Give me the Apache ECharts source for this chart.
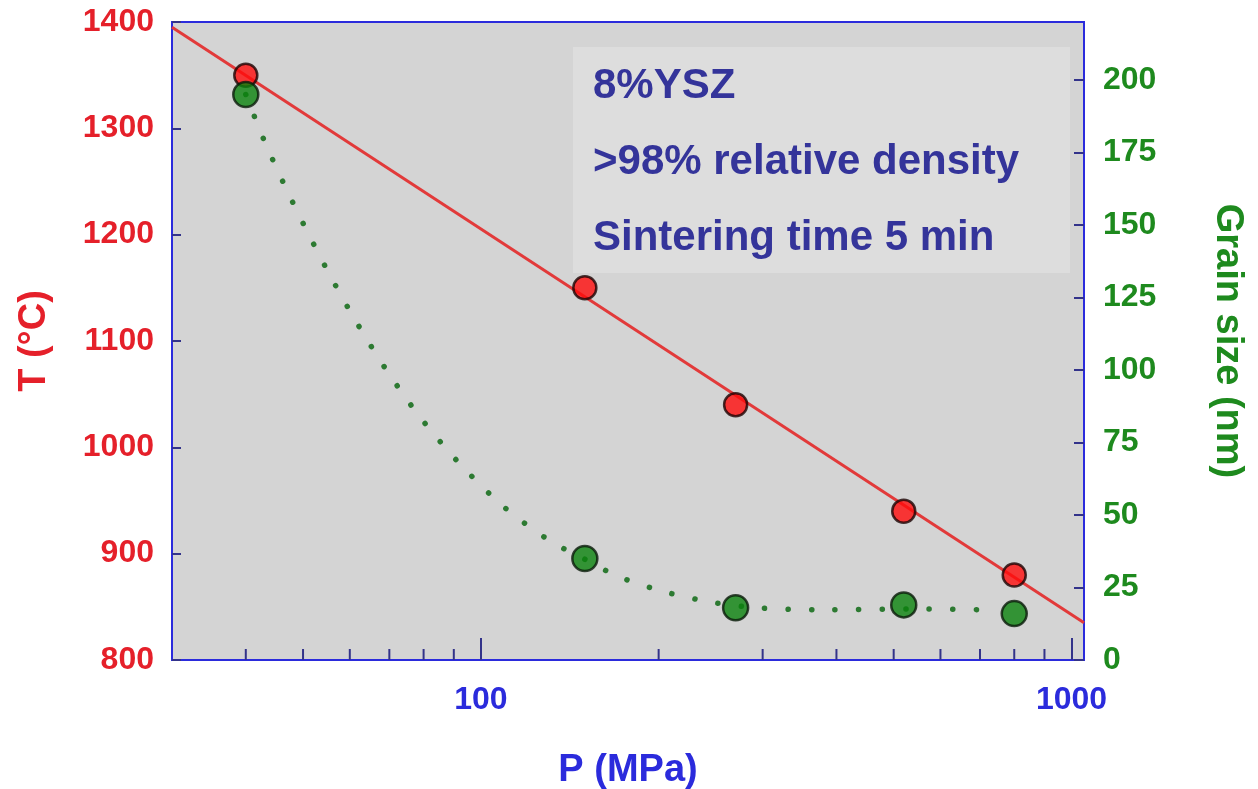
<!DOCTYPE html>
<html>
<head>
<meta charset="utf-8">
<script src="https://cdn.jsdelivr.net/npm/echarts@6/dist/echarts.min.js"></script>
<style>
  html, body { margin: 0; padding: 0; background: #ffffff; }
  #chart { width: 1258px; height: 789px; }
</style>
</head>
<body>
<div id="chart"></div>
<script>
// Sintering pressure P (MPa) for each run
const pressure = [40, 150, 270, 520, 800];
// Sintering temperature T (°C) needed at each pressure
const temperature = [1350, 1150, 1040, 940, 880];
// Resulting grain size (nm)
const grainSize = [195, 35, 18, 19, 16];

// Straight-line fit of T against log P (end points)
const fitP = [30, 1050];
const fitT = [1395, 835];

// Guide curve through the grain-size data
const curveP = [40, 43, 46.7, 50.9, 55.9, 61.9, 69.3, 78.8, 91.8, 109.4, 130.9, 149.5, 171.4, 205, 245, 294, 384, 550, 720];
const curveG = [195, 179, 163, 147.5, 131.6, 115.7, 99.8, 83.9, 68, 52.8, 41.1, 34.9, 28.7, 23.5, 20, 18, 17.3, 17.6, 17.3];

// Axis ticks
const xMajorTicks = [100, 1000];
const xMinorTicks = [40, 50, 60, 70, 80, 90, 200, 300, 400, 500, 600, 700, 800, 900];
const grainTicks = [0, 25, 50, 75, 100, 125, 150, 175, 200];

// Annotation lines
const notes = ['8%YSZ', '>98% relative density', 'Sintering time 5 min'];

const AXIS_BLUE = '#2b2bdc';
const TICK_NAVY = '#33338a';
const RED = '#e5202a';
const GREEN = '#1e8a1e';
const FONT = 'Liberation Sans, Arial, sans-serif';

const chart = echarts.init(document.getElementById('chart'));

const zip = (a, b) => a.map((v, i) => [v, b[i]]);
const plain = v => String(v);

chart.setOption({
  animation: false,
  backgroundColor: '#ffffff',
  grid: {
    left: 172, right: 174, top: 22, bottom: 129,
    show: true,
    backgroundColor: '#d4d4d4',
    borderColor: AXIS_BLUE,
    borderWidth: 2,
    containLabel: false,
    outerBoundsMode: 'none'
  },
  xAxis: {
    type: 'log',
    logBase: 10,
    min: 30,
    max: 1050,
    name: 'P (MPa)',
    nameLocation: 'middle',
    nameGap: 92,
    nameTextStyle: { color: AXIS_BLUE, fontSize: 38, fontWeight: 'bold', fontFamily: FONT },
    axisLine: { onZero: false, lineStyle: { color: AXIS_BLUE, width: 2 } },
    axisTick: { inside: true, length: 22, customValues: xMajorTicks, lineStyle: { color: TICK_NAVY, width: 2 } },
    axisLabel: { customValues: xMajorTicks, formatter: plain, color: AXIS_BLUE, fontSize: 32, fontWeight: 'bold', fontFamily: FONT, margin: 24 },
    splitLine: { show: false },
    minorTick: { show: false }
  },
  yAxis: [
    {
      type: 'value',
      min: 800,
      max: 1400,
      interval: 100,
      name: 'T (°C)',
      nameLocation: 'middle',
      nameRotate: 90,
      nameGap: 118,
      nameTextStyle: { color: RED, fontSize: 38, fontWeight: 'bold', fontFamily: FONT },
      axisLine: { show: true, lineStyle: { color: AXIS_BLUE, width: 2 } },
      axisTick: { show: true, inside: true, length: 9, lineStyle: { color: TICK_NAVY, width: 2 } },
      axisLabel: { formatter: plain, color: RED, fontSize: 32, fontWeight: 'bold', fontFamily: FONT, margin: 18, padding: [6, 0, 0, 0] },
      splitLine: { show: false }
    },
    {
      type: 'value',
      position: 'right',
      min: 0,
      max: 220,
      name: 'Grain size (nm)',
      nameLocation: 'middle',
      nameRotate: -90,
      nameGap: 124,
      nameTextStyle: { color: GREEN, fontSize: 38, fontWeight: 'bold', fontFamily: FONT },
      axisLine: { show: true, lineStyle: { color: AXIS_BLUE, width: 2 } },
      axisTick: { show: true, inside: true, length: 10, customValues: grainTicks, lineStyle: { color: TICK_NAVY, width: 2 } },
      axisLabel: { customValues: grainTicks, formatter: plain, color: GREEN, fontSize: 32, fontWeight: 'bold', fontFamily: FONT, margin: 19, padding: [6, 0, 0, 0] },
      splitLine: { show: false }
    }
  ],
  graphic: [
    {
      type: 'rect',
      shape: { x: 573, y: 47, width: 497, height: 226 },
      style: { fill: '#dddddd' },
      z: 1
    },
    ...notes.map((t, i) => ({
      type: 'text',
      x: 593,
      y: 86 + i * 76,
      style: {
        text: t,
        fill: '#34349a',
        font: 'bold 42px ' + FONT,
        verticalAlign: 'middle'
      },
      z: 2
    }))
  ],
  series: [
    {
      type: 'custom',
      silent: true,
      clip: false,
      data: xMinorTicks.map(v => [v]),
      encode: { x: 0 },
      renderItem: function (params, api) {
        const x = api.coord([api.value(0), 800])[0];
        const yb = params.coordSys.y + params.coordSys.height;
        return {
          type: 'line',
          shape: { x1: x, y1: yb, x2: x, y2: yb - 11 },
          style: { stroke: TICK_NAVY, lineWidth: 2 }
        };
      },
      z: 3
    },
    {
      type: 'line',
      data: zip(fitP, fitT),
      showSymbol: false,
      silent: true,
      lineStyle: { color: '#e23a3a', width: 3 },
      z: 3
    },
    {
      type: 'scatter',
      data: zip(pressure, temperature),
      symbolSize: 23,
      itemStyle: { color: '#ff0b0b', borderColor: '#1a0505', borderWidth: 2.5 },
      z: 4
    },
    {
      type: 'line',
      yAxisIndex: 1,
      data: zip(curveP, curveG),
      smooth: 0.3,
      showSymbol: false,
      silent: true,
      lineStyle: { color: '#2d7a32', width: 5.5, type: [0.1, 23.4], cap: 'round' },
      z: 3
    },
    {
      type: 'scatter',
      yAxisIndex: 1,
      data: zip(pressure, grainSize),
      symbolSize: 25,
      itemStyle: { color: '#0a820c', borderColor: '#0a1a0a', borderWidth: 2.5 },
      z: 5
    }
  ]
});
</script>
</body>
</html>
